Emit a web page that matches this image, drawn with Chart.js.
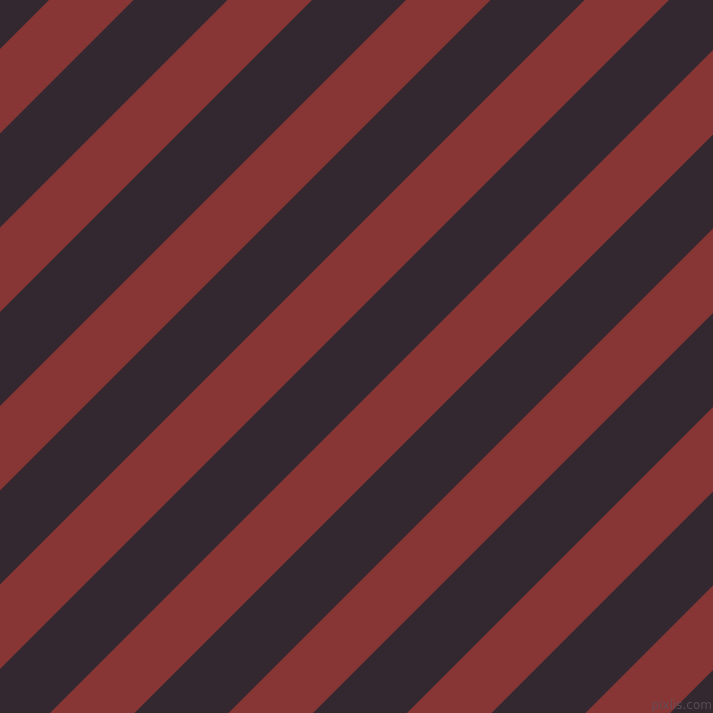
<!DOCTYPE html>
<html lang="en">
<head>
  <meta charset="UTF-8" />
  <title>Diagonal stripes</title>
  <script src="https://cdn.jsdelivr.net/npm/chart.js"></script>
  <style>
    html, body { margin: 0; padding: 0; background: #33282f; overflow: hidden; }
    canvas { display: block; }
  </style>
</head>
<body>
  <canvas id="stripes" width="713" height="713"></canvas>

  <script>
    // stripe edges as x + y = c (pixels, y measured downward)
    const redStart = [49, 227.5, 406, 584.5, 763, 941.5, 1120, 1298.5];
    const redEnd = [133.5, 312, 490.5, 669, 847.5, 1026, 1204.5, 1383];
    const xRange = [0, 713];
    const yRange = [0, 713];
    const watermark = 'pixlis.com';

    const DARK = '#33282f';
    const RED = '#873535';

    // one edge line across the whole width for a given c
    function edge(c) {
      return xRange.map(x => ({ x: x, y: c - x }));
    }

    const datasets = [];
    redStart.forEach((c, i) => {
      datasets.push({
        data: edge(c),
        borderColor: 'rgba(0,0,0,0)',
        borderWidth: 0,
        pointRadius: 0,
        fill: false
      });
      datasets.push({
        data: edge(redEnd[i]),
        borderColor: 'rgba(0,0,0,0)',
        borderWidth: 0,
        pointRadius: 0,
        backgroundColor: RED,
        fill: '-1'
      });
    });

    const bg = {
      id: 'bg',
      beforeDraw(chart) {
        const c = chart.ctx;
        c.save();
        c.fillStyle = DARK;
        c.fillRect(0, 0, chart.width, chart.height);
        c.restore();
      },
      afterDraw(chart) {
        // small corner mark
        const c = chart.ctx;
        c.save();
        c.font = '12px "DejaVu Sans"';
        c.fillStyle = 'rgba(95, 80, 90, 0.85)';
        c.textAlign = 'right';
        c.textBaseline = 'bottom';
        c.fillText(watermark, chart.width - 1, chart.height - 1);
        c.restore();
      }
    };

    new Chart(document.getElementById('stripes'), {
      type: 'line',
      data: { datasets: datasets },
      options: {
        responsive: false,
        animation: false,
        layout: { padding: 0 },
        plugins: { legend: { display: false }, tooltip: { enabled: false } },
        scales: {
          x: { type: 'linear', min: xRange[0], max: xRange[1], display: false },
          y: { type: 'linear', min: yRange[0], max: yRange[1], reverse: true, display: false }
        }
      },
      plugins: [bg]
    });
  </script>
</body>
</html>
